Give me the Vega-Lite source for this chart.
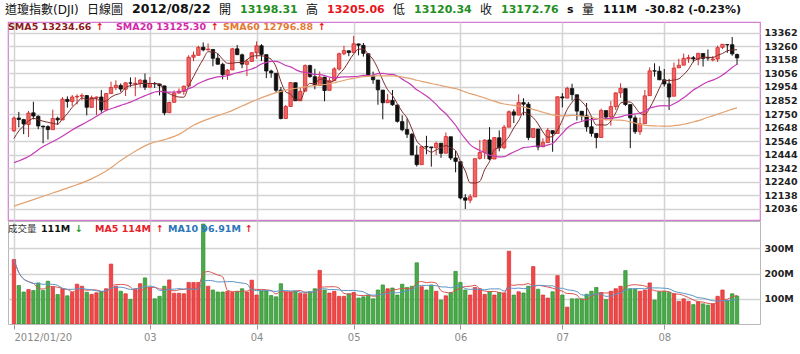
{
"$schema": "https://vega.github.io/schema/vega-lite/v6.json",
"padding": {"left": 2, "top": 2, "right": 0, "bottom": 0},
"spacing": 1,
"bounds": "flush",
"datasets": {
"k": [
{"i":0,"d":"2012-01-20","o":12623,"h":12731,"l":12616,"c":12720,"v":256},
{"i":1,"d":"2012-01-23","o":12720,"h":12766,"l":12650,"c":12709,"v":153},
{"i":2,"d":"2012-01-24","o":12708,"h":12713,"l":12598,"c":12675,"v":127},
{"i":3,"d":"2012-01-25","o":12671,"h":12773,"l":12577,"c":12757,"v":137},
{"i":4,"d":"2012-01-26","o":12759,"h":12842,"l":12710,"c":12735,"v":133},
{"i":5,"d":"2012-01-27","o":12733,"h":12740,"l":12636,"c":12660,"v":163},
{"i":6,"d":"2012-01-30","o":12659,"h":12662,"l":12530,"c":12653,"v":133},
{"i":7,"d":"2012-01-31","o":12655,"h":12665,"l":12558,"c":12633,"v":170},
{"i":8,"d":"2012-02-01","o":12632,"h":12783,"l":12632,"c":12716,"v":146},
{"i":9,"d":"2012-02-02","o":12718,"h":12730,"l":12668,"c":12706,"v":117},
{"i":10,"d":"2012-02-03","o":12705,"h":12877,"l":12705,"c":12862,"v":140},
{"i":11,"d":"2012-02-06","o":12860,"h":12883,"l":12798,"c":12845,"v":112},
{"i":12,"d":"2012-02-07","o":12845,"h":12893,"l":12810,"c":12878,"v":125},
{"i":13,"d":"2012-02-08","o":12878,"h":12898,"l":12823,"c":12883,"v":158},
{"i":14,"d":"2012-02-09","o":12884,"h":12905,"l":12853,"c":12890,"v":150},
{"i":15,"d":"2012-02-10","o":12889,"h":12893,"l":12740,"c":12801,"v":126},
{"i":16,"d":"2012-02-13","o":12800,"h":12889,"l":12800,"c":12874,"v":118},
{"i":17,"d":"2012-02-14","o":12871,"h":12882,"l":12743,"c":12878,"v":124},
{"i":18,"d":"2012-02-15","o":12878,"h":12930,"l":12760,"c":12781,"v":128},
{"i":19,"d":"2012-02-16","o":12781,"h":12907,"l":12771,"c":12904,"v":140},
{"i":20,"d":"2012-02-17","o":12904,"h":12994,"l":12904,"c":12950,"v":238},
{"i":21,"d":"2012-02-21","o":12949,"h":13004,"l":12930,"c":12966,"v":150},
{"i":22,"d":"2012-02-22","o":12965,"h":12980,"l":12917,"c":12938,"v":130},
{"i":23,"d":"2012-02-23","o":12937,"h":12989,"l":12886,"c":12985,"v":120},
{"i":24,"d":"2012-02-24","o":12984,"h":13026,"l":12955,"c":12983,"v":98},
{"i":25,"d":"2012-02-27","o":12978,"h":13027,"l":12884,"c":12982,"v":140},
{"i":26,"d":"2012-02-28","o":12982,"h":13013,"l":12950,"c":13005,"v":160},
{"i":27,"d":"2012-02-29","o":13005,"h":13055,"l":12931,"c":12952,"v":183},
{"i":28,"d":"2012-03-01","o":12952,"h":13029,"l":12952,"c":12980,"v":145},
{"i":29,"d":"2012-03-02","o":12980,"h":12991,"l":12946,"c":12977,"v":100},
{"i":30,"d":"2012-03-05","o":12976,"h":12978,"l":12890,"c":12963,"v":110},
{"i":31,"d":"2012-03-06","o":12962,"h":12962,"l":12741,"c":12759,"v":150},
{"i":32,"d":"2012-03-07","o":12760,"h":12842,"l":12760,"c":12837,"v":175},
{"i":33,"d":"2012-03-08","o":12838,"h":12927,"l":12838,"c":12907,"v":122},
{"i":34,"d":"2012-03-09","o":12908,"h":12942,"l":12903,"c":12922,"v":122},
{"i":35,"d":"2012-03-12","o":12920,"h":12965,"l":12895,"c":12959,"v":120},
{"i":36,"d":"2012-03-13","o":12960,"h":13193,"l":12960,"c":13177,"v":165},
{"i":37,"d":"2012-03-14","o":13178,"h":13221,"l":13148,"c":13194,"v":165},
{"i":38,"d":"2012-03-15","o":13192,"h":13264,"l":13192,"c":13252,"v":165},
{"i":39,"d":"2012-03-16","o":13253,"h":13289,"l":13222,"c":13233,"v":397},
{"i":40,"d":"2012-03-19","o":13233,"h":13281,"l":13228,"c":13239,"v":150},
{"i":41,"d":"2012-03-20","o":13236,"h":13236,"l":13110,"c":13170,"v":135},
{"i":42,"d":"2012-03-21","o":13170,"h":13206,"l":13122,"c":13125,"v":127},
{"i":43,"d":"2012-03-22","o":13124,"h":13136,"l":13011,"c":13046,"v":127},
{"i":44,"d":"2012-03-23","o":13045,"h":13088,"l":13007,"c":13081,"v":130},
{"i":45,"d":"2012-03-26","o":13082,"h":13248,"l":13082,"c":13241,"v":125},
{"i":46,"d":"2012-03-27","o":13241,"h":13270,"l":13194,"c":13197,"v":130},
{"i":47,"d":"2012-03-28","o":13196,"h":13205,"l":13095,"c":13126,"v":140},
{"i":48,"d":"2012-03-29","o":13124,"h":13162,"l":13036,"c":13145,"v":127},
{"i":49,"d":"2012-03-30","o":13146,"h":13214,"l":13146,"c":13212,"v":174},
{"i":50,"d":"2012-04-02","o":13211,"h":13297,"l":13167,"c":13264,"v":115},
{"i":51,"d":"2012-04-03","o":13264,"h":13276,"l":13149,"c":13199,"v":131},
{"i":52,"d":"2012-04-04","o":13197,"h":13197,"l":13020,"c":13074,"v":131},
{"i":53,"d":"2012-04-05","o":13074,"h":13084,"l":13023,"c":13060,"v":113},
{"i":54,"d":"2012-04-09","o":13057,"h":13057,"l":12911,"c":12929,"v":108},
{"i":55,"d":"2012-04-10","o":12930,"h":12954,"l":12710,"c":12716,"v":160},
{"i":56,"d":"2012-04-11","o":12716,"h":12818,"l":12716,"c":12806,"v":127},
{"i":57,"d":"2012-04-12","o":12807,"h":12990,"l":12806,"c":12987,"v":127},
{"i":58,"d":"2012-04-13","o":12986,"h":12986,"l":12848,"c":12850,"v":130},
{"i":59,"d":"2012-04-16","o":12850,"h":12950,"l":12850,"c":12921,"v":122},
{"i":60,"d":"2012-04-17","o":12922,"h":13123,"l":12922,"c":13115,"v":120},
{"i":61,"d":"2012-04-18","o":13115,"h":13122,"l":13023,"c":13032,"v":128},
{"i":62,"d":"2012-04-19","o":13031,"h":13091,"l":12936,"c":12964,"v":140},
{"i":63,"d":"2012-04-20","o":12965,"h":13071,"l":12965,"c":13029,"v":213},
{"i":64,"d":"2012-04-23","o":13028,"h":13028,"l":12846,"c":12927,"v":135},
{"i":65,"d":"2012-04-24","o":12928,"h":13021,"l":12928,"c":13001,"v":123},
{"i":66,"d":"2012-04-25","o":13002,"h":13102,"l":13002,"c":13090,"v":130},
{"i":67,"d":"2012-04-26","o":13089,"h":13213,"l":13077,"c":13204,"v":110},
{"i":68,"d":"2012-04-27","o":13204,"h":13264,"l":13193,"c":13228,"v":110},
{"i":69,"d":"2012-04-30","o":13226,"h":13229,"l":13186,"c":13213,"v":120},
{"i":70,"d":"2012-05-01","o":13214,"h":13338,"l":13214,"c":13279,"v":125},
{"i":71,"d":"2012-05-02","o":13278,"h":13279,"l":13192,"c":13268,"v":103},
{"i":72,"d":"2012-05-03","o":13267,"h":13285,"l":13182,"c":13207,"v":108},
{"i":73,"d":"2012-05-04","o":13204,"h":13204,"l":13035,"c":13038,"v":115},
{"i":74,"d":"2012-05-07","o":13036,"h":13069,"l":12977,"c":13008,"v":100},
{"i":75,"d":"2012-05-08","o":13006,"h":13006,"l":12820,"c":12932,"v":135},
{"i":76,"d":"2012-05-09","o":12930,"h":12930,"l":12710,"c":12835,"v":155},
{"i":77,"d":"2012-05-10","o":12835,"h":12902,"l":12834,"c":12855,"v":140},
{"i":78,"d":"2012-05-11","o":12853,"h":12931,"l":12812,"c":12820,"v":143},
{"i":79,"d":"2012-05-14","o":12818,"h":12818,"l":12685,"c":12695,"v":115},
{"i":80,"d":"2012-05-15","o":12693,"h":12740,"l":12620,"c":12632,"v":158},
{"i":81,"d":"2012-05-16","o":12633,"h":12715,"l":12570,"c":12598,"v":145},
{"i":82,"d":"2012-05-17","o":12598,"h":12606,"l":12440,"c":12442,"v":150},
{"i":83,"d":"2012-05-18","o":12441,"h":12513,"l":12355,"c":12369,"v":243},
{"i":84,"d":"2012-05-21","o":12369,"h":12505,"l":12369,"c":12504,"v":148},
{"i":85,"d":"2012-05-22","o":12505,"h":12586,"l":12447,"c":12502,"v":135},
{"i":86,"d":"2012-05-23","o":12502,"h":12502,"l":12354,"c":12496,"v":155},
{"i":87,"d":"2012-05-24","o":12497,"h":12542,"l":12442,"c":12529,"v":130},
{"i":88,"d":"2012-05-25","o":12530,"h":12531,"l":12420,"c":12454,"v":95},
{"i":89,"d":"2012-05-29","o":12455,"h":12611,"l":12455,"c":12580,"v":112},
{"i":90,"d":"2012-05-30","o":12579,"h":12579,"l":12403,"c":12419,"v":125},
{"i":91,"d":"2012-05-31","o":12419,"h":12473,"l":12311,"c":12393,"v":209},
{"i":92,"d":"2012-06-01","o":12391,"h":12391,"l":12107,"c":12118,"v":165},
{"i":93,"d":"2012-06-04","o":12119,"h":12147,"l":12035,"c":12101,"v":135},
{"i":94,"d":"2012-06-05","o":12101,"h":12147,"l":12078,"c":12127,"v":115},
{"i":95,"d":"2012-06-06","o":12126,"h":12414,"l":12126,"c":12414,"v":145},
{"i":96,"d":"2012-06-07","o":12416,"h":12555,"l":12407,"c":12460,"v":140},
{"i":97,"d":"2012-06-08","o":12459,"h":12559,"l":12411,"c":12554,"v":118},
{"i":98,"d":"2012-06-11","o":12555,"h":12651,"l":12404,"c":12411,"v":128},
{"i":99,"d":"2012-06-12","o":12411,"h":12575,"l":12411,"c":12573,"v":115},
{"i":100,"d":"2012-06-13","o":12571,"h":12627,"l":12469,"c":12496,"v":125},
{"i":101,"d":"2012-06-14","o":12496,"h":12668,"l":12485,"c":12651,"v":123},
{"i":102,"d":"2012-06-15","o":12651,"h":12777,"l":12651,"c":12767,"v":289},
{"i":103,"d":"2012-06-18","o":12766,"h":12785,"l":12682,"c":12742,"v":115},
{"i":104,"d":"2012-06-19","o":12742,"h":12899,"l":12742,"c":12837,"v":128},
{"i":105,"d":"2012-06-20","o":12836,"h":12869,"l":12740,"c":12824,"v":123},
{"i":106,"d":"2012-06-21","o":12824,"h":12840,"l":12553,"c":12573,"v":150},
{"i":107,"d":"2012-06-22","o":12574,"h":12643,"l":12574,"c":12640,"v":228},
{"i":108,"d":"2012-06-25","o":12637,"h":12637,"l":12477,"c":12502,"v":138},
{"i":109,"d":"2012-06-26","o":12503,"h":12567,"l":12503,"c":12535,"v":115},
{"i":110,"d":"2012-06-27","o":12535,"h":12645,"l":12535,"c":12627,"v":103},
{"i":111,"d":"2012-06-28","o":12625,"h":12625,"l":12466,"c":12602,"v":128},
{"i":112,"d":"2012-06-29","o":12603,"h":12881,"l":12603,"c":12880,"v":192},
{"i":113,"d":"2012-07-02","o":12879,"h":12907,"l":12800,"c":12871,"v":115},
{"i":114,"d":"2012-07-03","o":12870,"h":12955,"l":12869,"c":12943,"v":67},
{"i":115,"d":"2012-07-05","o":12942,"h":12978,"l":12852,"c":12896,"v":100},
{"i":116,"d":"2012-07-06","o":12895,"h":12895,"l":12702,"c":12772,"v":100},
{"i":117,"d":"2012-07-09","o":12771,"h":12772,"l":12700,"c":12736,"v":100},
{"i":118,"d":"2012-07-10","o":12736,"h":12833,"l":12617,"c":12653,"v":118},
{"i":119,"d":"2012-07-11","o":12654,"h":12735,"l":12580,"c":12604,"v":130},
{"i":120,"d":"2012-07-12","o":12604,"h":12604,"l":12492,"c":12573,"v":145},
{"i":121,"d":"2012-07-13","o":12573,"h":12791,"l":12573,"c":12777,"v":125},
{"i":122,"d":"2012-07-16","o":12776,"h":12776,"l":12702,"c":12727,"v":97},
{"i":123,"d":"2012-07-17","o":12727,"h":12847,"l":12662,"c":12806,"v":130},
{"i":124,"d":"2012-07-18","o":12806,"h":12913,"l":12781,"c":12909,"v":140},
{"i":125,"d":"2012-07-19","o":12909,"h":12982,"l":12872,"c":12943,"v":150},
{"i":126,"d":"2012-07-20","o":12941,"h":12941,"l":12810,"c":12822,"v":212},
{"i":127,"d":"2012-07-23","o":12821,"h":12821,"l":12493,"c":12721,"v":140},
{"i":128,"d":"2012-07-24","o":12721,"h":12740,"l":12600,"c":12617,"v":138},
{"i":129,"d":"2012-07-25","o":12617,"h":12724,"l":12593,"c":12676,"v":130},
{"i":130,"d":"2012-07-26","o":12677,"h":12931,"l":12677,"c":12887,"v":135},
{"i":131,"d":"2012-07-27","o":12888,"h":13101,"l":12888,"c":13075,"v":163},
{"i":132,"d":"2012-07-30","o":13076,"h":13132,"l":13032,"c":13073,"v":95},
{"i":133,"d":"2012-07-31","o":13073,"h":13109,"l":13005,"c":13008,"v":128},
{"i":134,"d":"2012-08-01","o":13008,"h":13089,"l":12957,"c":12976,"v":130},
{"i":135,"d":"2012-08-02","o":12977,"h":13015,"l":12780,"c":12878,"v":125},
{"i":136,"d":"2012-08-03","o":12884,"h":13138,"l":12884,"c":13096,"v":120},
{"i":137,"d":"2012-08-06","o":13098,"h":13166,"l":13096,"c":13117,"v":90},
{"i":138,"d":"2012-08-07","o":13118,"h":13205,"l":13118,"c":13169,"v":100},
{"i":139,"d":"2012-08-08","o":13165,"h":13196,"l":13136,"c":13175,"v":90},
{"i":140,"d":"2012-08-09","o":13174,"h":13187,"l":13140,"c":13165,"v":77},
{"i":141,"d":"2012-08-10","o":13163,"h":13210,"l":13117,"c":13207,"v":88},
{"i":142,"d":"2012-08-13","o":13206,"h":13206,"l":13107,"c":13169,"v":80},
{"i":143,"d":"2012-08-14","o":13175,"h":13236,"l":13151,"c":13172,"v":75},
{"i":144,"d":"2012-08-15","o":13158,"h":13187,"l":13147,"c":13164,"v":80},
{"i":145,"d":"2012-08-16","o":13164,"h":13265,"l":13142,"c":13250,"v":110},
{"i":146,"d":"2012-08-17","o":13252,"h":13275,"l":13239,"c":13275,"v":135},
{"i":147,"d":"2012-08-20","o":13273,"h":13275,"l":13211,"c":13271,"v":93},
{"i":148,"d":"2012-08-21","o":13272,"h":13330,"l":13189,"c":13203,"v":120},
{"i":149,"d":"2012-08-22","o":13198.31,"h":13205.06,"l":13120.34,"c":13172.76,"v":111}
],
"early": [
{"s":"sma5","i":0,"m":12565},{"s":"sma5","i":1,"m":12623},{"s":"sma5","i":2,"m":12661},{"s":"sma5","i":3,"m":12697},{"s":"sma5","i":4,"m":12719.2},
{"s":"sma20","i":0,"m":12384},{"s":"sma20","i":3,"m":12430},{"s":"sma20","i":6,"m":12505},{"s":"sma20","i":9,"m":12562},{"s":"sma20","i":12,"m":12630},{"s":"sma20","i":16,"m":12710},{"s":"sma20","i":19,"m":12778},
{"s":"sma60","i":0,"m":12057},{"s":"sma60","i":4,"m":12105},{"s":"sma60","i":8,"m":12155},{"s":"sma60","i":12,"m":12205},{"s":"sma60","i":16,"m":12262},{"s":"sma60","i":19,"m":12321},{"s":"sma60","i":22,"m":12400},{"s":"sma60","i":25,"m":12470},{"s":"sma60","i":28,"m":12527},{"s":"sma60","i":31,"m":12557},{"s":"sma60","i":34,"m":12597},{"s":"sma60","i":37,"m":12665},{"s":"sma60","i":40,"m":12712},{"s":"sma60","i":44,"m":12763},{"s":"sma60","i":47,"m":12810},{"s":"sma60","i":50,"m":12858},{"s":"sma60","i":54,"m":12911},{"s":"sma60","i":57,"m":12938},{"s":"sma60","i":59,"m":12947.8}
]
},
"vconcat": [
{
"width": 752, "height": 198,
"view": {"stroke": "#d27fd2", "strokeWidth": 1.2},
"layer": [
{"data": {"name": "k"},
 "mark": {"type": "rule", "strokeWidth": 1, "clip": true},
 "encoding": {
  "x": {"field": "i", "type": "quantitative", "scale": {"domain": [-0.2, 152.7], "nice": false, "zero": false},
        "axis": {"values": [0,28,50,70,92,113,134], "tickCount": 30, "grid": true, "gridColor": "#d3d3d3", "gridWidth": 1.5, "labels": false, "ticks": false, "domain": false, "title": null}},
  "y": {"field": "l", "type": "quantitative", "scale": {"domain": [11952, 13443], "nice": false, "zero": false},
        "axis": {"orient": "right", "values": [12036,12138,12240,12342,12444,12546,12648,12750,12852,12954,13056,13158,13260,13362], "tickCount": 30, "format": "d", "labelOverlap": false, "grid": true, "gridColor": "#d3d3d3", "gridWidth": 1.5, "domain": false, "ticks": false, "tickSize": 0, "labelPadding": 4, "labelFont": "DejaVu Sans", "labelFontWeight": "bold", "labelFontSize": 9.5, "labelColor": "#222222", "title": null}},
  "y2": {"field": "h"},
  "color": {"condition": {"test": "datum.c >= datum.o", "value": "#cc2a2a"}, "value": "#111111"}
 }},
{"data": {"name": "k"},
 "mark": {"type": "bar", "width": 3.4, "strokeWidth": 0.8, "clip": true},
 "encoding": {
  "x": {"field": "i", "type": "quantitative"},
  "y": {"field": "o", "type": "quantitative"},
  "y2": {"field": "c"},
  "color": {"condition": {"test": "datum.c >= datum.o", "value": "#f26464"}, "value": "#111111"},
  "stroke": {"condition": {"test": "datum.c >= datum.o", "value": "#d42a2a"}, "value": "#111111"}
 }},
{"data": {"name": "early"},
 "transform": [{"filter": "datum.s == 'sma5'"}],
 "mark": {"type": "line", "strokeWidth": 1, "interpolate": "monotone"},
 "encoding": {
  "x": {"field": "i", "type": "quantitative"},
  "y": {"field": "m", "type": "quantitative"},
  "color": {"datum": "SMA5 13234.66", "type": "nominal",
    "scale": {"domain": ["SMA5 13234.66", "↑\u2800", "SMA20 13125.30", "↑", "SMA60 12796.88", "↑\u200b"],
              "range": ["#7e2a2a", "#ee1111", "#c63cb6", "#ee1111", "#e3a271", "#ee1111"]},
    "legend": {"orient": "none", "legendX": -2, "legendY": 0, "direction": "horizontal", "columns": 6, "title": null,
      "labelLimit": 0, "symbolSize": 0.01, "symbolStrokeWidth": 0.01, "symbolOpacity": 0, "labelOffset": -7.5, "columnPadding": 2, "padding": 0.01,
      "labelFont": "DejaVu Sans", "labelFontSize": 9.5, "labelFontWeight": "bold",
      "encode": {"symbols": {"update": {"opacity": {"value": 0}}},
                 "labels": {"update": {"fill": {"signal": "test(/^SMA5 /, datum.value) ? '#8b1c1c' : test(/^SMA20/, datum.value) ? '#d02aa8' : test(/^SMA60/, datum.value) ? '#e47a32' : '#ee1111'"}}}}}}
 }},
{"data": {"name": "k"},
 "transform": [{"window": [{"op": "mean", "field": "c", "as": "m"}], "frame": [-4, 0], "sort": [{"field": "i"}]}, {"filter": "datum.i >= 4"}],
 "mark": {"type": "line", "strokeWidth": 1, "interpolate": "monotone"},
 "encoding": {
  "x": {"field": "i", "type": "quantitative"},
  "y": {"field": "m", "type": "quantitative"},
  "color": {"datum": "SMA5 13234.66", "type": "nominal"}
 }},
{"data": {"name": "early"},
 "transform": [{"filter": "datum.s == 'sma20'"}],
 "mark": {"type": "line", "strokeWidth": 1.2, "interpolate": "monotone"},
 "encoding": {
  "x": {"field": "i", "type": "quantitative"},
  "y": {"field": "m", "type": "quantitative"},
  "color": {"datum": "SMA20 13125.30", "type": "nominal"}
 }},
{"data": {"name": "k"},
 "transform": [{"window": [{"op": "mean", "field": "c", "as": "m"}], "frame": [-19, 0], "sort": [{"field": "i"}]}, {"filter": "datum.i >= 19"}],
 "mark": {"type": "line", "strokeWidth": 1.2, "interpolate": "monotone"},
 "encoding": {
  "x": {"field": "i", "type": "quantitative"},
  "y": {"field": "m", "type": "quantitative"},
  "color": {"datum": "SMA20 13125.30", "type": "nominal"}
 }},
{"data": {"name": "early"},
 "transform": [{"filter": "datum.s == 'sma60'"}],
 "mark": {"type": "line", "strokeWidth": 1.2, "interpolate": "monotone"},
 "encoding": {
  "x": {"field": "i", "type": "quantitative"},
  "y": {"field": "m", "type": "quantitative"},
  "color": {"datum": "SMA60 12796.88", "type": "nominal"}
 }},
{"data": {"name": "k"},
 "transform": [{"window": [{"op": "mean", "field": "c", "as": "m"}], "frame": [-59, 0], "sort": [{"field": "i"}]}, {"filter": "datum.i >= 59"}],
 "mark": {"type": "line", "strokeWidth": 1.2, "interpolate": "monotone"},
 "encoding": {
  "x": {"field": "i", "type": "quantitative"},
  "y": {"field": "m", "type": "quantitative"},
  "color": {"datum": "SMA60 12796.88", "type": "nominal"}
 }},
{"data": {"name": "k"},
 "mark": {"type": "point", "opacity": 0, "size": 1, "filled": true},
 "encoding": {
  "x": {"field": "i", "type": "quantitative"},
  "y": {"field": "c", "type": "quantitative"},
  "fill": {"datum": "道瓊指數(DJI)", "type": "nominal",
    "scale": {"domain": ["道瓊指數(DJI)", "日線圖", "2012/08/22", "開", "13198.31", "高", "13205.06", "低", "13120.34", "收", "13172.76", "s", "量", "111M", "-30.82 (-0.23%)"],
              "range": ["#111111", "#111111", "#111111", "#111111", "#1f8f1f", "#111111", "#e8141b", "#111111", "#1f8f1f", "#111111", "#1f8f1f", "#111111", "#111111", "#111111", "#111111"]},
    "legend": {"orient": "none", "legendX": -5, "legendY": -19, "direction": "horizontal", "columns": 15, "title": null,
      "labelLimit": 0, "symbolSize": 0.01, "symbolStrokeWidth": 0.01, "symbolOpacity": 0, "labelOffset": -10, "columnPadding": 6, "padding": 0.01,
      "labelFont": "DejaVu Sans, Noto Sans CJK TC",
      "encode": {"symbols": {"update": {"opacity": {"value": 0}}},
                 "labels": {"update": {
        "fill": {"signal": "test(/^1319|^1312|^1317/, datum.value) ? '#1f8f1f' : test(/^13205/, datum.value) ? '#e8141b' : '#111111'"},
        "fontWeight": {"signal": "test(/[0-9sM]/, datum.value) ? 'bold' : 'normal'"},
        "fontSize": {"signal": "test(/^2012/, datum.value) ? 12.5 : test(/[0-9sM]/, datum.value) ? 11 : 12"}
      }}}}}
 }}
]
},
{
"width": 752, "height": 103,
"view": {"stroke": "#b8b8b8"},
"layer": [
{"data": {"name": "k"},
 "mark": {"type": "bar", "width": 3.4, "strokeWidth": 0.7, "clip": true},
 "encoding": {
  "x": {"field": "i", "type": "quantitative", "scale": {"domain": [-0.2, 152.7], "nice": false, "zero": false},
        "axis": {"values": [0,28,50,70,92,113,134], "tickCount": 30, "labelExpr": "datum.value == 0 ? '2012/01/20' : datum.value == 28 ? '03' : datum.value == 50 ? '04' : datum.value == 70 ? '05' : datum.value == 92 ? '06' : datum.value == 113 ? '07' : '08'",
                 "grid": true, "gridColor": "#d3d3d3", "gridWidth": 1.5, "domain": false, "ticks": true, "tickColor": "#999999", "tickSize": 5, "labelOverlap": false,
                 "labelColor": "#8a8a8a", "labelFont": "DejaVu Sans", "labelFontSize": 10, "labelPadding": 3,
                 "labelAlign": {"condition": {"test": "datum.value == 0", "value": "left"}, "value": "center"}, "title": null}},
  "y": {"field": "v", "type": "quantitative", "scale": {"domain": [0, 409], "nice": false},
        "axis": {"orient": "right", "values": [100, 200, 300], "tickCount": 10, "labelExpr": "datum.value + 'M'", "labelOverlap": false, "grid": true, "gridColor": "#d3d3d3", "gridWidth": 1.5, "domain": false, "ticks": false, "tickSize": 0, "labelPadding": 4, "labelFont": "DejaVu Sans", "labelFontWeight": "bold", "labelFontSize": 9.5, "labelColor": "#222222", "title": null}},
  "color": {"condition": {"test": "datum.c >= datum.o", "value": "#f04848"}, "value": "#48aa48"},
  "stroke": {"condition": {"test": "datum.c >= datum.o", "value": "#d83030"}, "value": "#2f8f2f"}
 }},
{"data": {"name": "k"},
 "transform": [{"window": [{"op": "mean", "field": "v", "as": "m"}], "frame": [-4, 0], "sort": [{"field": "i"}]}],
 "mark": {"type": "line", "strokeWidth": 1, "interpolate": "monotone"},
 "encoding": {
  "x": {"field": "i", "type": "quantitative"},
  "y": {"field": "m", "type": "quantitative"},
  "stroke": {"datum": "MA5 114M", "type": "nominal",
    "scale": {"domain": ["成交量", "111M", "↓\u2800", "MA5 114M", "↑", "MA10 96.91M", "↑\u200b"],
              "range": ["#000000", "#000000", "#000000", "#d9534f", "#000000", "#5a95c8", "#000000"]},
    "legend": {"orient": "none", "legendX": -2, "legendY": 3, "direction": "horizontal", "columns": 7, "title": null,
      "labelLimit": 0, "symbolSize": 0.01, "symbolStrokeWidth": 0.01, "symbolOpacity": 0, "labelOffset": -7.5, "columnPadding": 2, "padding": 0.01,
      "labelFont": "DejaVu Sans, Noto Sans CJK TC", "labelFontSize": 9.5, "labelFontWeight": "bold",
      "encode": {"symbols": {"update": {"opacity": {"value": 0}}},
                 "labels": {"update": {
        "fill": {"signal": "test(/^成/, datum.value) ? '#333333' : datum.value === '111M' ? '#111111' : test(/^↓/, datum.value) ? '#1e9a1e' : test(/^MA10/, datum.value) ? '#2b76b9' : '#e8222a'"},
        "fontWeight": {"signal": "test(/^成/, datum.value) ? 'normal' : 'bold'"}
      }}}}}
 }},
{"data": {"name": "k"},
 "transform": [{"window": [{"op": "mean", "field": "v", "as": "m"}], "frame": [-9, 0], "sort": [{"field": "i"}]}],
 "mark": {"type": "line", "strokeWidth": 1, "interpolate": "monotone"},
 "encoding": {
  "x": {"field": "i", "type": "quantitative"},
  "y": {"field": "m", "type": "quantitative"},
  "stroke": {"datum": "MA10 96.91M", "type": "nominal"}
 }}
]
}
],
"resolve": {"scale": {"color": "independent", "fill": "independent", "stroke": "independent"}, "legend": {"color": "independent", "fill": "independent", "stroke": "independent"}},
"config": {"font": "DejaVu Sans, Noto Sans CJK TC", "background": "#ffffff", "axis": {"labelOverlap": false}}
}
